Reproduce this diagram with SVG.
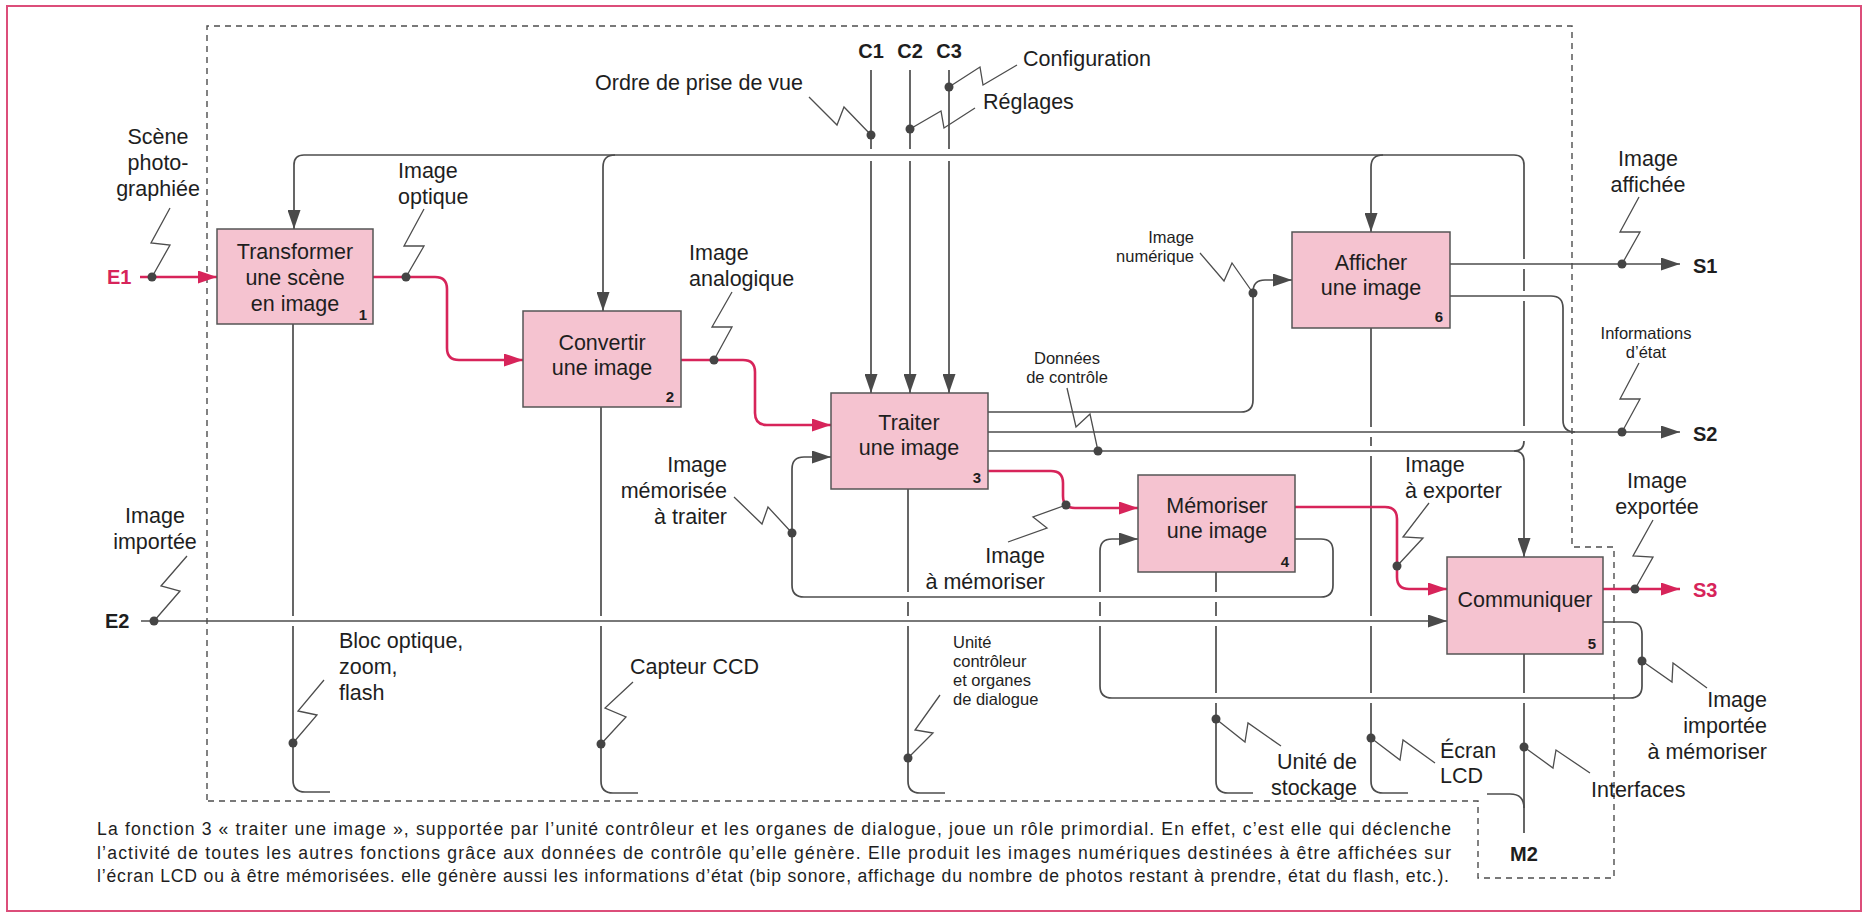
<svg xmlns="http://www.w3.org/2000/svg" width="1864" height="914" viewBox="0 0 1864 914">
  <style>
    text { font-family: "Liberation Sans", Arial, Helvetica, sans-serif; fill: #1e1e1e; }
    .lg { font-size: 21.5px; }
    .sm { font-size: 16.5px; }
    .io { font-size: 20px; font-weight: bold; }
    .num { font-size: 15px; font-weight: bold; text-anchor: middle; }
    .cap { font-size: 17.6px; }
    .mid { text-anchor: middle; }
    .end { text-anchor: end; }
    .red { fill: #d7245a; }
    .box { fill: #f5c3d0; stroke: #555; stroke-width: 1.5; }
    .ln { fill: none; stroke: #4d4d4d; stroke-width: 1.7; }
    .arr { marker-end: url(#ah); }
    .rl { fill: none; stroke: #d7245a; stroke-width: 2.6; }
    .rarr { marker-end: url(#ahr); }
    .zz { fill: none; stroke: #4d4d4d; stroke-width: 1.3; stroke-linejoin: miter; }
    .dot { fill: #444; }
    .dash { fill: none; stroke: #4d4d4d; stroke-width: 1.4; stroke-dasharray: 6 5; }
  </style>
  <defs>
    <marker id="ah" viewBox="0 0 19 13" refX="19" refY="6.5" markerWidth="19" markerHeight="13" orient="auto" markerUnits="userSpaceOnUse">
      <path d="M0,0 L19,6.5 L0,13 z" fill="#4a4a4a"/>
    </marker>
    <marker id="ahr" viewBox="0 0 19 13" refX="19" refY="6.5" markerWidth="19" markerHeight="13" orient="auto" markerUnits="userSpaceOnUse">
      <path d="M0,0 L19,6.5 L0,13 z" fill="#d7245a"/>
    </marker>
  </defs>

  <rect x="0" y="0" width="1864" height="914" fill="#ffffff"/>
  <!-- page frame -->
  <rect x="7" y="6" width="1854" height="905" fill="none" stroke="#dc4d7a" stroke-width="2"/>

  <!-- system boundary -->
  <g id="boundary">
    <path class="dash" d="M207,800 V26 H1572 V547 H1614 V878 H1478 V801 H207"/>
  </g>

  <!-- connectors -->
  <g id="connectors">
    <!-- control feedback loop (top bus) -->
    <path class="ln arr" d="M982,451 H1514 Q1524,451 1524,441 M1524,426 V301 M1524,291 V269 M1524,259 V165 Q1524,155 1514,155 H304 Q294,155 294,165 V229"/>
    <path class="ln arr" d="M615,155 Q603,155 603,167 V311"/>
    <path class="ln arr" d="M1383,155 Q1371,155 1371,167 V232"/>
    <path class="ln arr" d="M1514,451 Q1524,451 1524,461 V557"/>

    <!-- C1 C2 C3 -->
    <path class="ln arr" d="M871,70 V149 M871,161 V393"/>
    <path class="ln arr" d="M910,70 V149 M910,161 V393"/>
    <path class="ln arr" d="M949,70 V149 M949,161 V393"/>

    <!-- outputs of function 3 -->
    <path class="ln arr" d="M988,412 H1241 Q1253,412 1253,400 V292 Q1253,280 1265,280 H1292"/>
    <path class="ln arr" d="M976,432 H1680"/>

    <!-- outputs of function 6 -->
    <path class="ln arr" d="M1450,264 H1680"/>
    <path class="ln" d="M1450,296 H1551 Q1563,296 1563,308 V420 Q1563,432 1575,432"/>

    <!-- memorised image loop to function 3 -->
    <path class="ln arr" d="M1295,539 H1321 Q1333,539 1333,551 V585 Q1333,597 1321,597 H804 Q792,597 792,585 V469 Q792,457 804,457 H831"/>
    <!-- imported image loop to function 4 -->
    <path class="ln arr" d="M1603,622 H1630 Q1642,622 1642,634 V686 Q1642,698 1630,698 H1112 Q1100,698 1100,686 V626 M1100,616 V602 M1100,592 V551 Q1100,539 1112,539 H1138"/>

    <!-- E2 -->
    <path class="ln arr" d="M141,621 H1447"/>

    <!-- mechanisms -->
    <path class="ln" d="M293,324 V616 M293,626 V780 Q293,792 305,792 H330"/>
    <path class="ln" d="M601,407 V616 M601,626 V781 Q601,793 613,793 H638"/>
    <path class="ln" d="M908,489 V592 M908,602 V616 M908,626 V781 Q908,793 920,793 H945"/>
    <path class="ln" d="M1216,572 V592 M1216,602 V616 M1216,626 V693 M1216,703 V781 Q1216,793 1228,793 H1253"/>
    <path class="ln" d="M1371,328 V427 M1371,437 V446 M1371,456 V616 M1371,626 V693 M1371,703 V781 Q1371,793 1383,793 H1408"/>
    <path class="ln" d="M1524,654 V693 M1524,703 V833"/>
    <path class="ln" d="M1487,794 H1510 Q1524,794 1524,808"/>

    <!-- main image flow -->
    <path class="rl rarr" d="M140,277 H217"/>
    <path class="rl rarr" d="M373,277 H435 Q447,277 447,289 V348 Q447,360 459,360 H523"/>
    <path class="rl rarr" d="M681,360 H743 Q755,360 755,372 V413 Q755,425 767,425 H831"/>
    <path class="rl rarr" d="M988,471 H1051 Q1063,471 1063,483 V496 Q1063,508 1075,508 H1138"/>
    <path class="rl rarr" d="M1295,507 H1385 Q1397,507 1397,519 V577 Q1397,589 1409,589 H1447"/>
    <path class="rl rarr" d="M1603,589 H1680"/>

    <!-- label leaders -->
    <polyline class="zz" points="170,208 151,243 170,245 152,277"/>
    <polyline class="zz" points="424,209 404,246 424,246 406,277"/>
    <polyline class="zz" points="732,292 712,327 732,327 714,360"/>
    <polyline class="zz" points="809,97 837,125 844,107 871,135"/>
    <polyline class="zz" points="910,129 941,111 944,128 975,108"/>
    <polyline class="zz" points="949,87 980,67 983,85 1017,65"/>
    <polyline class="zz" points="1200,253 1224,281 1232,263 1253,293"/>
    <polyline class="zz" points="1067,388 1076,427 1090,414 1098,451"/>
    <polyline class="zz" points="1639,197 1620,232 1640,232 1622,264"/>
    <polyline class="zz" points="1639,363 1620,399 1640,399 1622,432"/>
    <polyline class="zz" points="734,497 762,524 768,507 792,533"/>
    <polyline class="zz" points="1008,542 1047,528 1033,517 1066,505"/>
    <polyline class="zz" points="1429,503 1403,537 1423,538 1397,566"/>
    <polyline class="zz" points="1653,520 1633,556 1653,557 1635,589"/>
    <polyline class="zz" points="187,556 161,586 180,591 154,621"/>
    <polyline class="zz" points="324,680 298,711 317,715 293,743"/>
    <polyline class="zz" points="633,682 605,708 626,717 601,744"/>
    <polyline class="zz" points="940,695 915,730 933,733 908,758"/>
    <polyline class="zz" points="1216,719 1245,742 1248,723 1281,746"/>
    <polyline class="zz" points="1371,738 1400,760 1403,740 1435,763"/>
    <polyline class="zz" points="1524,747 1553,768 1556,750 1590,773"/>
    <polyline class="zz" points="1642,661 1672,682 1673,663 1707,688"/>

    <!-- junction dots -->
    <circle class="dot" cx="152" cy="277" r="4.5"/>
    <circle class="dot" cx="406" cy="277" r="4.5"/>
    <circle class="dot" cx="714" cy="360" r="4.5"/>
    <circle class="dot" cx="871" cy="135" r="4.5"/>
    <circle class="dot" cx="910" cy="129" r="4.5"/>
    <circle class="dot" cx="949" cy="87" r="4.5"/>
    <circle class="dot" cx="1253" cy="293" r="4.5"/>
    <circle class="dot" cx="1098" cy="451" r="4.5"/>
    <circle class="dot" cx="1622" cy="264" r="4.5"/>
    <circle class="dot" cx="1622" cy="432" r="4.5"/>
    <circle class="dot" cx="792" cy="533" r="4.5"/>
    <circle class="dot" cx="1066" cy="505" r="4.5"/>
    <circle class="dot" cx="1397" cy="566" r="4.5"/>
    <circle class="dot" cx="1635" cy="589" r="4.5"/>
    <circle class="dot" cx="154" cy="621" r="4.5"/>
    <circle class="dot" cx="293" cy="743" r="4.5"/>
    <circle class="dot" cx="601" cy="744" r="4.5"/>
    <circle class="dot" cx="908" cy="758" r="4.5"/>
    <circle class="dot" cx="1216" cy="719" r="4.5"/>
    <circle class="dot" cx="1371" cy="738" r="4.5"/>
    <circle class="dot" cx="1524" cy="747" r="4.5"/>
    <circle class="dot" cx="1642" cy="661" r="4.5"/>
  </g>

  <!-- functions -->
  <g id="box1">
    <rect class="box" x="217" y="229" width="156" height="95"/>
    <text class="lg mid" x="295" y="259">Transformer</text>
    <text class="lg mid" x="295" y="285">une scène</text>
    <text class="lg mid" x="295" y="311">en image</text>
    <text class="num" x="363" y="320">1</text>
  </g>
  <g id="box2">
    <rect class="box" x="523" y="311" width="158" height="96"/>
    <text class="lg mid" x="602" y="350">Convertir</text>
    <text class="lg mid" x="602" y="375">une image</text>
    <text class="num" x="670" y="402">2</text>
  </g>
  <g id="box3">
    <rect class="box" x="831" y="393" width="157" height="96"/>
    <text class="lg mid" x="909" y="430">Traiter</text>
    <text class="lg mid" x="909" y="455">une image</text>
    <text class="num" x="977" y="483">3</text>
  </g>
  <g id="box4">
    <rect class="box" x="1138" y="475" width="157" height="97"/>
    <text class="lg mid" x="1217" y="513">Mémoriser</text>
    <text class="lg mid" x="1217" y="538">une image</text>
    <text class="num" x="1285" y="567">4</text>
  </g>
  <g id="box5">
    <rect class="box" x="1447" y="557" width="156" height="97"/>
    <text class="lg mid" x="1525" y="607">Communiquer</text>
    <text class="num" x="1592" y="649">5</text>
  </g>
  <g id="box6">
    <rect class="box" x="1292" y="232" width="158" height="96"/>
    <text class="lg mid" x="1371" y="270">Afficher</text>
    <text class="lg mid" x="1371" y="295">une image</text>
    <text class="num" x="1439" y="322">6</text>
  </g>

  <!-- inputs, outputs, controls -->
  <g id="terminals">
    <text class="io red" x="107" y="284">E1</text>
    <text class="io" x="105" y="628">E2</text>
    <text class="io mid" x="871" y="58">C1</text>
    <text class="io mid" x="910" y="58">C2</text>
    <text class="io mid" x="949" y="58">C3</text>
    <text class="io" x="1693" y="273">S1</text>
    <text class="io" x="1693" y="441">S2</text>
    <text class="io red" x="1693" y="597">S3</text>
    <text class="io mid" x="1524" y="861">M2</text>
  </g>

  <!-- flow labels -->
  <g id="labels">
    <text class="lg mid" x="158" y="144">Scène</text>
    <text class="lg mid" x="158" y="170">photo-</text>
    <text class="lg mid" x="158" y="196">graphiée</text>
    <text class="lg" x="398" y="178">Image</text>
    <text class="lg" x="398" y="204">optique</text>
    <text class="lg" x="689" y="260">Image</text>
    <text class="lg" x="689" y="286">analogique</text>
    <text class="lg end" x="803" y="90">Ordre de prise de vue</text>
    <text class="lg" x="1023" y="66">Configuration</text>
    <text class="lg" x="983" y="109">Réglages</text>
    <text class="lg mid" x="1648" y="166">Image</text>
    <text class="lg mid" x="1648" y="192">affichée</text>
    <text class="lg end" x="727" y="472">Image</text>
    <text class="lg end" x="727" y="498">mémorisée</text>
    <text class="lg end" x="727" y="524">à traiter</text>
    <text class="lg end" x="1045" y="563">Image</text>
    <text class="lg end" x="1045" y="589">à mémoriser</text>
    <text class="lg" x="1405" y="472">Image</text>
    <text class="lg" x="1405" y="498">à exporter</text>
    <text class="lg mid" x="1657" y="488">Image</text>
    <text class="lg mid" x="1657" y="514">exportée</text>
    <text class="lg mid" x="155" y="523">Image</text>
    <text class="lg mid" x="155" y="549">importée</text>
    <text class="lg" x="339" y="648">Bloc optique,</text>
    <text class="lg" x="339" y="674">zoom,</text>
    <text class="lg" x="339" y="700">flash</text>
    <text class="lg" x="630" y="674">Capteur CCD</text>
    <text class="lg end" x="1357" y="769">Unité de</text>
    <text class="lg end" x="1357" y="795">stockage</text>
    <text class="lg" x="1440" y="758">Écran</text>
    <text class="lg" x="1440" y="783">LCD</text>
    <text class="lg" x="1591" y="797">Interfaces</text>
    <text class="lg end" x="1767" y="707">Image</text>
    <text class="lg end" x="1767" y="733">importée</text>
    <text class="lg end" x="1767" y="759">à mémoriser</text>
    <text class="sm end" x="1194" y="243">Image</text>
    <text class="sm end" x="1194" y="262">numérique</text>
    <text class="sm mid" x="1067" y="364">Données</text>
    <text class="sm mid" x="1067" y="383">de contrôle</text>
    <text class="sm mid" x="1646" y="339">Informations</text>
    <text class="sm mid" x="1646" y="358">d’état</text>
    <text class="sm" x="953" y="648">Unité</text>
    <text class="sm" x="953" y="667">contrôleur</text>
    <text class="sm" x="953" y="686">et organes</text>
    <text class="sm" x="953" y="705">de dialogue</text>
  </g>

  <!-- caption -->
  <g id="caption">
    <text class="cap" x="97" y="835" textLength="1354" lengthAdjust="spacing">La fonction 3 « traiter une image », supportée par l’unité contrôleur et les organes de dialogue, joue un rôle primordial. En effet, c’est elle qui déclenche</text>
    <text class="cap" x="97" y="858.5" textLength="1354" lengthAdjust="spacing">l’activité de toutes les autres fonctions grâce aux données de contrôle qu’elle génère. Elle produit les images numériques destinées à être affichées sur</text>
    <text class="cap" x="97" y="882" textLength="1352" lengthAdjust="spacing">l’écran LCD ou à être mémorisées. elle génère aussi les informations d’état (bip sonore, affichage du nombre de photos restant à prendre, état du flash, etc.).</text>
  </g>
</svg>
